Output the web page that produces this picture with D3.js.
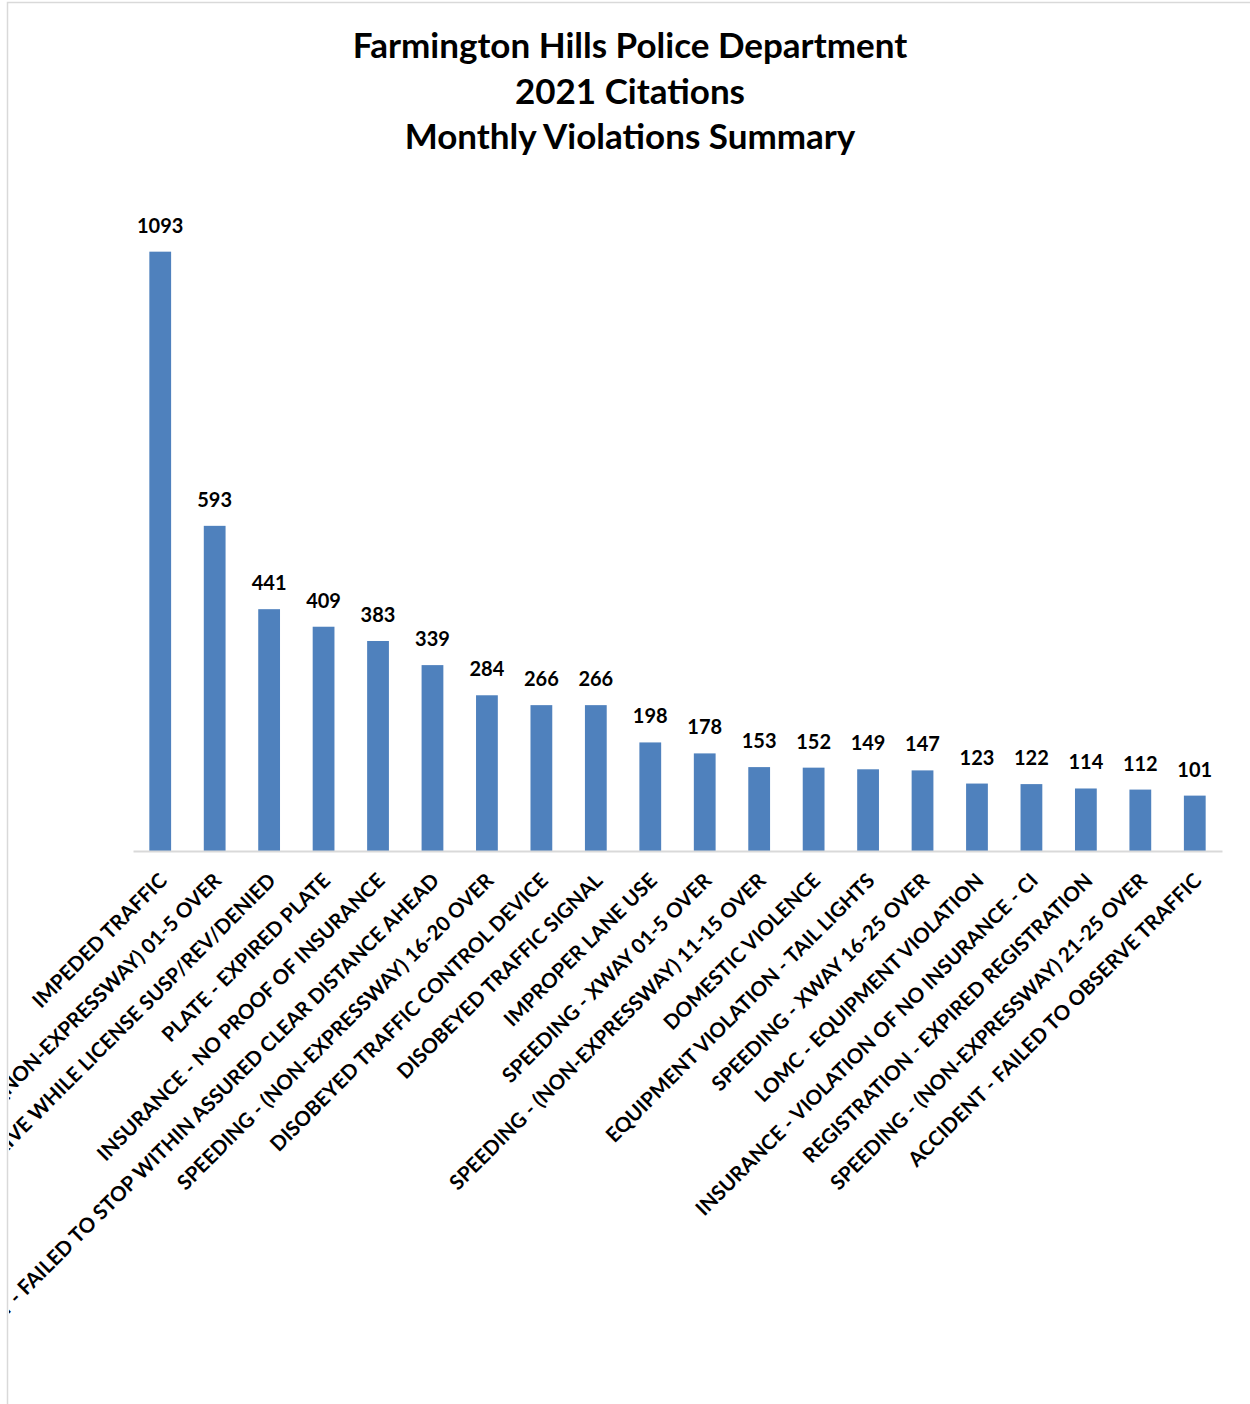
<!DOCTYPE html>
<html>
<head>
<meta charset="utf-8">
<script src="https://cdn.jsdelivr.net/npm/d3@7"></script>
<style>
  body { margin: 0; background: #fff; }
  svg { display: block; }
  text { font-family: Lato, "Open Sans", sans-serif; font-weight: bold; fill: #000; }
</style>
</head>
<body>
<div id="chart"></div>
<script>
const titleLines = ['Farmington Hills Police Department', '2021 Citations', 'Monthly Violations Summary'];

const categories = [
  'IMPEDED TRAFFIC',
  'SPEEDING - (NON-EXPRESSWAY) 01-5 OVER',
  'DRIVE WHILE LICENSE SUSP/REV/DENIED',
  'PLATE - EXPIRED PLATE',
  'INSURANCE - NO PROOF OF INSURANCE',
  'ACCIDENT - FAILED TO STOP WITHIN ASSURED CLEAR DISTANCE AHEAD',
  'SPEEDING - (NON-EXPRESSWAY) 16-20 OVER',
  'DISOBEYED TRAFFIC CONTROL DEVICE',
  'DISOBEYED TRAFFIC SIGNAL',
  'IMPROPER LANE USE',
  'SPEEDING - XWAY 01-5 OVER',
  'SPEEDING - (NON-EXPRESSWAY) 11-15 OVER',
  'DOMESTIC VIOLENCE',
  'EQUIPMENT VIOLATION - TAIL LIGHTS',
  'SPEEDING - XWAY 16-25 OVER',
  'LOMC - EQUIPMENT VIOLATION',
  'INSURANCE - VIOLATION OF NO INSURANCE - CI',
  'REGISTRATION - EXPIRED REGISTRATION',
  'SPEEDING - (NON-EXPRESSWAY) 21-25 OVER',
  'ACCIDENT - FAILED TO OBSERVE TRAFFIC'
];

const counts = [1093, 593, 441, 409, 383, 339, 284, 266, 266, 198, 178, 153, 152, 149, 147, 123, 122, 114, 112, 101];

const W = 1250, H = 1404;
const plot = { left: 133, right: 1222, top: 193, bottom: 851 };

const svg = d3.select('#chart').append('svg')
  .attr('width', W)
  .attr('height', H);

// chart frame
svg.append('path')
  .attr('d', `M7.5,${H} L7.5,2.5 L${W},2.5`)
  .attr('fill', 'none')
  .attr('stroke', '#d9d9d9')
  .attr('stroke-width', 1.5);

svg.append('clipPath').attr('id', 'frame')
  .append('rect').attr('x', 9).attr('y', 4).attr('width', W).attr('height', H);

const g = svg.append('g').attr('clip-path', 'url(#frame)');

// title
g.append('g').selectAll('text')
  .data(titleLines)
  .enter()
  .append('text')
  .attr('x', 630)
  .attr('y', (d, i) => 58 + i * 45.5)
  .attr('text-anchor', 'middle')
  .style('font-size', '35px')
  .text(d => d);

const x = d3.scaleBand()
  .domain(categories)
  .range([plot.left, plot.right])
  .paddingInner(0.6)
  .paddingOuter(0.3);

const y = d3.scaleLinear()
  .domain([0, 1200])
  .range([plot.bottom, plot.top]);

// bars
g.selectAll('rect.bar')
  .data(counts)
  .enter()
  .append('rect')
  .attr('class', 'bar')
  .attr('x', (d, i) => x(categories[i]))
  .attr('width', x.bandwidth())
  .attr('y', d => y(d))
  .attr('height', d => y(0) - y(d))
  .attr('fill', '#4f81bd');

// value labels
g.selectAll('text.val')
  .data(counts)
  .enter()
  .append('text')
  .attr('class', 'val')
  .attr('x', (d, i) => x(categories[i]) + x.bandwidth() / 2)
  .attr('y', d => y(d) - 19)
  .attr('text-anchor', 'middle')
  .style('font-size', '20px')
  .text(d => d);

// x axis
const axis = g.append('g')
  .attr('transform', `translate(0,${plot.bottom})`)
  .call(d3.axisBottom(x).tickSize(0).tickSizeOuter(0).tickPadding(0));

axis.select('.domain')
  .attr('stroke', '#d9d9d9')
  .attr('stroke-width', 2);

axis.selectAll('text')
  .attr('text-anchor', 'end')
  .attr('dy', null)
  .attr('y', 0)
  .attr('transform', 'translate(8,31) rotate(-45)')
  .style('font-family', 'Lato, "Open Sans", sans-serif')
  .style('font-weight', 'bold')
  .style('font-size', '20.5px')
  .attr('fill', '#000');
</script>
</body>
</html>
